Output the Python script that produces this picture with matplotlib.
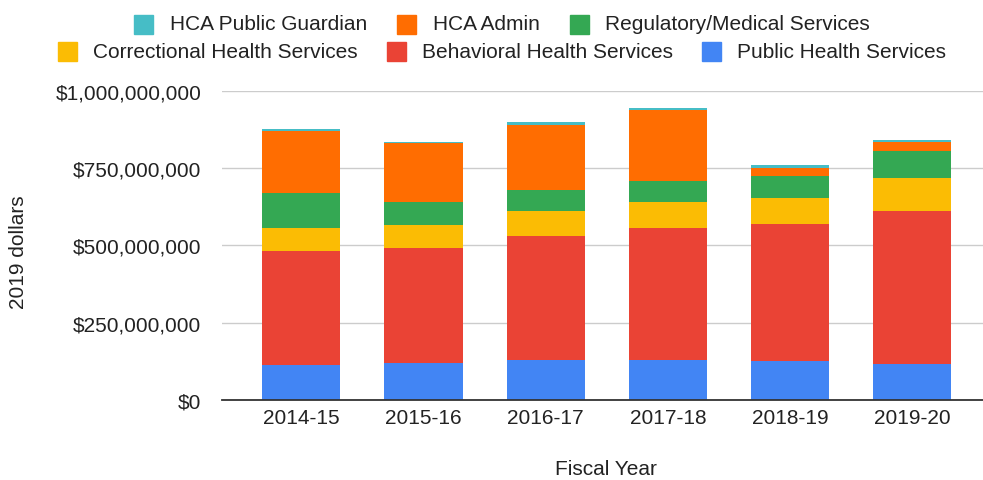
import matplotlib.pyplot as plt
from matplotlib.patches import Rectangle
from matplotlib.ticker import FuncFormatter
import numpy as np

plt.rcParams['font.family'] = ['Liberation Sans', 'DejaVu Sans']

years = ['2014-15', '2015-16', '2016-17', '2017-18', '2018-19', '2019-20']

# values in millions of 2019 dollars, bottom to top of each stack
public_health = [113, 120, 130, 130, 125, 115]
behavioral = [367, 370, 399, 425, 443, 495]
correctional = [76, 76, 81, 84, 86, 108]
regulatory = [112, 74, 69, 67, 69, 85]
hca_admin = [201, 191, 211, 232, 28, 32]
public_guardian = [8, 4, 9, 4, 9, 5]

series = [
    ('Public Health Services', public_health, '#4285F4'),
    ('Behavioral Health Services', behavioral, '#EA4335'),
    ('Correctional Health Services', correctional, '#FBBC04'),
    ('Regulatory/Medical Services', regulatory, '#34A853'),
    ('HCA Admin', hca_admin, '#FF6D01'),
    ('HCA Public Guardian', public_guardian, '#46BDC6'),
]

W, H = 983, 481
FS = 15
fig = plt.figure(figsize=(W / 100, H / 100), dpi=100)
ax = fig.add_axes([222 / W, (H - 401) / H, (W - 222) / W, (401 - 91.5) / H])

x = np.arange(len(years))
bottom = np.zeros(len(years))
for name, vals, color in series:
    v = np.array(vals) * 1e6
    ax.bar(x, v, width=0.64, bottom=bottom, color=color, zorder=2)
    bottom += v

ax.set_ylim(0, 1e9)
ax.set_xlim(-0.65, 5.58)
ax.set_yticks([0, 250e6, 500e6, 750e6, 1000e6])
ax.yaxis.set_major_formatter(FuncFormatter(lambda v, p: '${:,.0f}'.format(v)))
ax.set_xticks(x)
ax.set_xticklabels(years)
ax.tick_params(axis='both', length=0, labelsize=FS, colors='#222222')
ax.tick_params(axis='y', pad=15)
ax.tick_params(axis='x', pad=6)
ax.grid(axis='y', color='#cccccc', linewidth=1, zorder=0)
for s in ['top', 'right', 'left']:
    ax.spines[s].set_visible(False)
ax.spines['bottom'].set_color('#333333')
ax.spines['bottom'].set_linewidth(1.3)
ax.spines['bottom'].set_zorder(3)

fig.text(606 / W, 1 - 470 / H, 'Fiscal Year', ha='center', va='center',
         fontsize=FS, color='#222222')
fig.text(19 / W, 1 - 252 / H, '2019 dollars', ha='center', va='center',
         rotation=90, fontsize=FS, color='#222222')

# legend, two centred rows like the original
legend_rows = [
    (25, [('HCA Public Guardian', '#46BDC6', 134, 170),
          ('HCA Admin', '#FF6D01', 397, 433),
          ('Regulatory/Medical Services', '#34A853', 570, 605)]),
    (52, [('Correctional Health Services', '#FBBC04', 58, 93),
          ('Behavioral Health Services', '#EA4335', 387, 422),
          ('Public Health Services', '#4285F4', 702, 737)]),
]
for yc, entries in legend_rows:
    for label, color, mx, tx in entries:
        fig.add_artist(Rectangle((mx / W, 1 - (yc + 9.5) / H), 19 / W, 19 / H,
                                 transform=fig.transFigure, color=color))
        fig.text(tx / W, 1 - yc / H, label, ha='left', va='center',
                 fontsize=FS, color='#222222')

fig.savefig('out.png', dpi=100)
